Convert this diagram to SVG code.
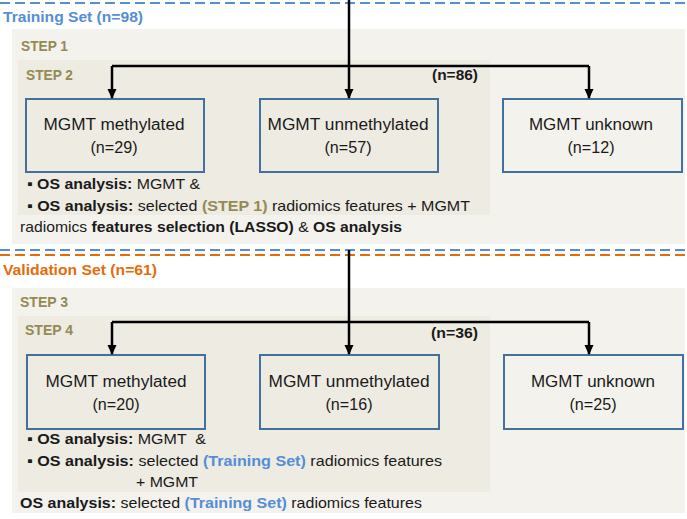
<svg xmlns="http://www.w3.org/2000/svg" width="687" height="519" viewBox="0 0 687 519">
<style>
text{font-family:"Liberation Sans",Arial,sans-serif;}
.hdr{font-size:14.5px;font-weight:bold;}
.blue{fill:#558ed5;}
.orange{fill:#e46c0a;}
.step{font-size:15px;font-weight:bold;fill:#948a54;}
.box{fill:none;stroke:#41719c;stroke-width:2;}
.bt{font-size:16px;fill:#1a1a1a;text-anchor:middle;}
.tx{font-size:15px;fill:#1a1a1a;}
.b{font-weight:bold;}
.cnt{font-size:15px;font-weight:bold;fill:#1a1a1a;}
.outer{fill:#f4f2ed;}
.inner{fill:#eeebe3;}
.conn path{fill:none;stroke:#000;stroke-width:2.5;}
.dash{stroke-width:2;stroke-dasharray:10 5;fill:none;}
</style>
<defs>
<marker id="ar" markerUnits="userSpaceOnUse" markerWidth="10" markerHeight="10" refX="9" refY="5" orient="auto" viewBox="0 0 10 10">
<path d="M0,0.5 L10,5 L0,9.5 Z" fill="#000"/>
</marker>
</defs>
<rect width="687" height="519" fill="#ffffff"/>

<!-- Training set -->
<g id="training-set">
<line class="dash" x1="0" y1="3" x2="687" y2="3" stroke="#558ed5"/>
<text class="hdr blue" x="3" y="22" textLength="140" lengthAdjust="spacingAndGlyphs">Training Set (n=98)</text>
</g>
<g id="step1">
<rect class="outer" x="12" y="29" width="673" height="215"/>
<text class="step" x="21" y="51" textLength="47" lengthAdjust="spacingAndGlyphs">STEP 1</text>
</g>
<g id="step2">
<rect class="inner" x="18" y="60" width="472" height="155"/>
<text class="step" x="26" y="80" textLength="47" lengthAdjust="spacingAndGlyphs">STEP 2</text>
<text class="cnt" x="432" y="80" textLength="46" lengthAdjust="spacingAndGlyphs">(n=86)</text>
</g>
<g id="t-methylated">
<rect class="box" x="26" y="99" width="178" height="73"/>
<text class="bt" x="114" y="130" textLength="141" lengthAdjust="spacingAndGlyphs">MGMT methylated</text>
<text class="bt" x="114" y="153" textLength="47" lengthAdjust="spacingAndGlyphs">(n=29)</text>
</g>
<g id="t-unmethylated">
<rect class="box" x="260" y="99" width="178" height="73"/>
<text class="bt" x="348" y="130" textLength="161" lengthAdjust="spacingAndGlyphs">MGMT unmethylated</text>
<text class="bt" x="348" y="153" textLength="47" lengthAdjust="spacingAndGlyphs">(n=57)</text>
</g>
<g id="t-unknown">
<rect class="box" x="503" y="99" width="179" height="73"/>
<text class="bt" x="591" y="130" textLength="124" lengthAdjust="spacingAndGlyphs">MGMT unknown</text>
<text class="bt" x="591" y="153" textLength="47" lengthAdjust="spacingAndGlyphs">(n=12)</text>
</g>
<g id="t-analysis">
<text class="tx" x="27" y="189" textLength="173" lengthAdjust="spacingAndGlyphs">▪ <tspan class="b">OS analysis:</tspan> MGMT &amp;</text>
<text class="tx" x="27" y="210.5" textLength="443" lengthAdjust="spacingAndGlyphs">▪ <tspan class="b">OS analysis:</tspan> selected <tspan class="b" fill="#948a54">(STEP 1)</tspan> radiomics features + MGMT</text>
<text class="tx" x="20" y="232" textLength="382" lengthAdjust="spacingAndGlyphs">radiomics <tspan class="b">features selection (LASSO)</tspan> &amp; <tspan class="b">OS analysis</tspan></text>
</g>

<!-- Validation set -->
<g id="validation-set">
<line class="dash" x1="0" y1="250" x2="687" y2="250" stroke="#558ed5"/>
<line class="dash" x1="0" y1="255" x2="687" y2="255" stroke="#e46c0a"/>
<text class="hdr orange" x="3" y="275" textLength="154" lengthAdjust="spacingAndGlyphs">Validation Set (n=61)</text>
</g>
<g id="step3">
<rect class="outer" x="12" y="288" width="673" height="225"/>
<text class="step" x="20" y="307" textLength="48" lengthAdjust="spacingAndGlyphs">STEP 3</text>
</g>
<g id="step4">
<rect class="inner" x="18" y="316" width="472" height="176"/>
<text class="step" x="25" y="335" textLength="48" lengthAdjust="spacingAndGlyphs">STEP 4</text>
<text class="cnt" x="431" y="338" textLength="47" lengthAdjust="spacingAndGlyphs">(n=36)</text>
</g>
<g id="v-methylated">
<rect class="box" x="27" y="355" width="178" height="74"/>
<text class="bt" x="116" y="387" textLength="141" lengthAdjust="spacingAndGlyphs">MGMT methylated</text>
<text class="bt" x="116" y="410" textLength="47" lengthAdjust="spacingAndGlyphs">(n=20)</text>
</g>
<g id="v-unmethylated">
<rect class="box" x="260" y="355" width="179" height="74"/>
<text class="bt" x="349" y="387" textLength="161" lengthAdjust="spacingAndGlyphs">MGMT unmethylated</text>
<text class="bt" x="349" y="410" textLength="47" lengthAdjust="spacingAndGlyphs">(n=16)</text>
</g>
<g id="v-unknown">
<rect class="box" x="504" y="355" width="179" height="74"/>
<text class="bt" x="593" y="387" textLength="124" lengthAdjust="spacingAndGlyphs">MGMT unknown</text>
<text class="bt" x="593" y="410" textLength="47" lengthAdjust="spacingAndGlyphs">(n=25)</text>
</g>
<g id="v-analysis">
<text class="tx" x="27" y="444" textLength="179" lengthAdjust="spacingAndGlyphs" xml:space="preserve">▪ <tspan class="b">OS analysis:</tspan> MGMT  &amp;</text>
<text class="tx" x="27" y="466" textLength="415" lengthAdjust="spacingAndGlyphs">▪ <tspan class="b">OS analysis:</tspan> selected <tspan class="b blue">(Training Set)</tspan> radiomics features</text>
<text class="tx" x="136" y="487" textLength="62" lengthAdjust="spacingAndGlyphs">+ MGMT</text>
<text class="tx" x="20" y="508" textLength="402" lengthAdjust="spacingAndGlyphs"><tspan class="b">OS analysis:</tspan> selected <tspan class="b blue">(Training Set)</tspan> radiomics features</text>
</g>

<g id="connectors" class="conn">
<path d="M349,0 V98" marker-end="url(#ar)"/>
<path d="M112,66 H589"/>
<path d="M112,66 V98" marker-end="url(#ar)"/>
<path d="M589,66 V98" marker-end="url(#ar)"/>
<path d="M349,250 V354" marker-end="url(#ar)"/>
<path d="M112,322 H589"/>
<path d="M112,322 V354" marker-end="url(#ar)"/>
<path d="M589,322 V354" marker-end="url(#ar)"/>
</g>
</svg>
